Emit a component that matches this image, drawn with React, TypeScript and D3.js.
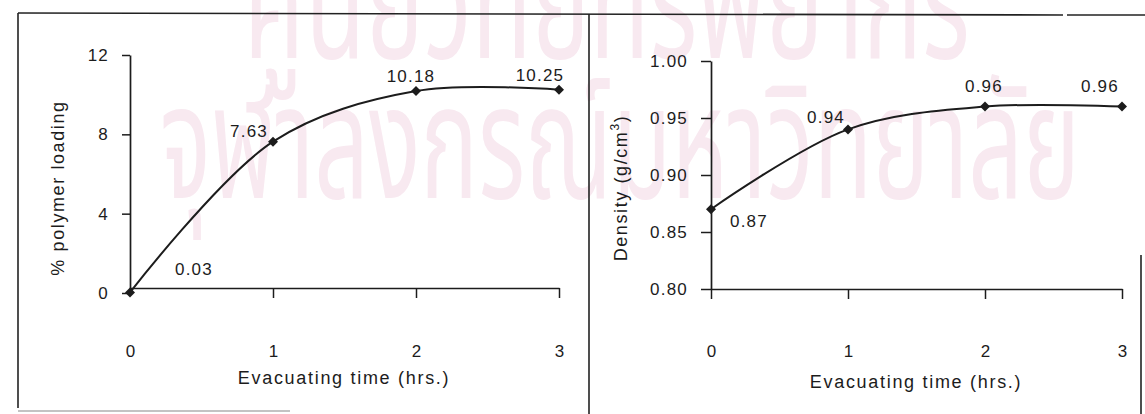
import React, { useEffect, useRef } from "react";
import * as d3 from "d3";

// Evacuating time (hours)
const hours = [0, 1, 2, 3];
const xTickLabels = ["0", "1", "2", "3"];

// Left panel: % polymer loading
const loading = [0.03, 7.63, 10.18, 10.25];
const loadingLabels = ["0.03", "7.63", "10.18", "10.25"];
const loadingTicks = [0, 4, 8, 12];

// Right panel: density (g/cm3)
const density = [0.87, 0.94, 0.96, 0.96];
const densityLabels = ["0.87", "0.94", "0.96", "0.96"];
const densityTicks = [0.8, 0.85, 0.9, 0.95, 1.0];

// Watermark lines
const watermarkLines = ["ศูนย์วิทยทรัพยากร", "จุฬาลงกรณ์มหาวิทยาลัย"];

const W = 1145;
const H = 414;
const FONT = "'Liberation Sans', Arial, Helvetica, sans-serif";
const INK = "#1c1c1c";

type Offset = { dx: number; dy: number; anchor: string };

const loadingLabelPos: Offset[] = [
  { dx: 45, dy: -17, anchor: "start" },
  { dx: -5, dy: -5, anchor: "end" },
  { dx: -5, dy: -9, anchor: "middle" },
  { dx: -19, dy: -9, anchor: "middle" },
];

const densityLabelPos: Offset[] = [
  { dx: 19, dy: 18, anchor: "start" },
  { dx: -3, dy: -6, anchor: "end" },
  { dx: -1, dy: -15, anchor: "middle" },
  { dx: -22, dy: -15, anchor: "middle" },
];

function drawPanel(
  svg: d3.Selection<SVGSVGElement, unknown, null, undefined>,
  opts: {
    xRange: [number, number];
    yDomain: [number, number];
    yRange: [number, number];
    values: number[];
    labels: string[];
    labelPos: Offset[];
    yTicks: number[];
    yFormat: (v: number) => string;
    xAxisY: number;
    zeroTick: boolean;
    yTickSize: number;
    titleX: number;
    titleBaseline: number;
    yTitleX: number;
    yTitle: (g: d3.Selection<SVGTextElement, unknown, null, undefined>) => void;
  }
) {
  const x = d3.scaleLinear().domain([0, 3]).range(opts.xRange);
  const y = d3.scaleLinear().domain(opts.yDomain).range(opts.yRange);
  const g = svg.append("g");

  // y axis
  const yAxis = g
    .append("g")
    .attr("transform", `translate(${opts.xRange[0]},0)`)
    .call(
      d3
        .axisLeft(y)
        .tickValues(opts.yTicks)
        .tickFormat((d) => opts.yFormat(d as number))
        .tickSize(opts.yTickSize)
        .tickSizeOuter(0)
        .tickPadding(13)
    );
  yAxis.select(".domain").attr("stroke", INK).attr("stroke-width", 1.7);
  yAxis.selectAll(".tick line").attr("stroke", INK).attr("stroke-width", 1.5);
  yAxis
    .selectAll(".tick text")
    .attr("fill", INK)
    .style("font-family", FONT)
    .style("font-size", "17px")
    .style("letter-spacing", "1.2px");

  // x axis
  const xAxis = g
    .append("g")
    .attr("transform", `translate(0,${opts.xAxisY})`)
    .call(
      d3
        .axisBottom(x)
        .tickValues(hours)
        .tickFormat((_, i) => xTickLabels[i])
        .tickSize(10)
        .tickSizeOuter(0)
    );
  xAxis.select(".domain").attr("stroke", INK).attr("stroke-width", 1.7);
  xAxis
    .selectAll(".tick line")
    .attr("stroke", INK)
    .attr("stroke-width", 1.5)
    .attr("display", (_, i) => (i === 0 && !opts.zeroTick ? "none" : null));
  xAxis
    .selectAll(".tick text")
    .attr("y", 357 - opts.xAxisY)
    .attr("dy", 0)
    .attr("fill", INK)
    .style("font-family", FONT)
    .style("font-size", "17px");

  // x title
  g.append("text")
    .attr("x", opts.titleX)
    .attr("y", opts.titleBaseline)
    .attr("text-anchor", "middle")
    .attr("fill", INK)
    .style("font-family", FONT)
    .style("font-size", "18px")
    .style("letter-spacing", "1.7px")
    .text("Evacuating time (hrs.)");

  // y title
  const yt = g
    .append("text")
    .attr("transform", `translate(${opts.yTitleX},188) rotate(-90)`)
    .attr("text-anchor", "middle")
    .attr("fill", INK)
    .style("font-family", FONT)
    .style("font-size", "18px")
    .style("letter-spacing", "1.6px");
  opts.yTitle(yt as any);

  // curve
  const line = d3
    .line<number>()
    .x((_, i) => x(hours[i]))
    .y((d) => y(d))
    .curve(d3.curveCatmullRom.alpha(0.5));
  g.append("path")
    .datum(opts.values)
    .attr("d", line)
    .attr("fill", "none")
    .attr("stroke", INK)
    .attr("stroke-width", 2);

  // diamond markers
  g.selectAll("path.mk")
    .data(opts.values)
    .join("path")
    .attr("class", "mk")
    .attr("d", (d, i) => {
      const cx = x(hours[i]);
      const cy = y(d);
      const p = d3.path();
      p.moveTo(cx, cy - 5);
      p.lineTo(cx + 5, cy);
      p.lineTo(cx, cy + 5);
      p.lineTo(cx - 5, cy);
      p.closePath();
      return p.toString();
    })
    .attr("fill", INK);

  // value labels
  g.selectAll("text.val")
    .data(opts.values)
    .join("text")
    .attr("class", "val")
    .attr("x", (_, i) => x(hours[i]) + opts.labelPos[i].dx)
    .attr("y", (d, i) => y(d) + opts.labelPos[i].dy)
    .attr("text-anchor", (_, i) => opts.labelPos[i].anchor)
    .attr("fill", INK)
    .style("font-family", FONT)
    .style("font-size", "17px")
    .style("letter-spacing", "1.2px")
    .text((_, i) => opts.labels[i]);
}

export default function App() {
  const ref = useRef<SVGSVGElement>(null);

  useEffect(() => {
    const svg = d3.select(ref.current!);
    svg.selectAll("*").remove();

    svg.append("rect").attr("width", W).attr("height", H).attr("fill", "#ffffff");

    // faint watermark behind the charts
    const wm = svg
      .append("g")
      .attr("fill", "#f8e9f0")
      .style("font-family", "'Noto Sans Thai', 'Noto Sans', sans-serif")
      .style("font-weight", 400);
    wm.append("text")
      .attr("transform", "translate(607,58) scale(0.62,1)")
      .attr("text-anchor", "middle")
      .style("font-size", "158px")
      .text(watermarkLines[0]);
    wm.append("text")
      .attr("transform", "translate(620,198) scale(0.6,1)")
      .attr("text-anchor", "middle")
      .style("font-size", "160px")
      .text(watermarkLines[1]);

    // page frame
    const frame = svg.append("g").attr("stroke", "#222").attr("stroke-width", 1.6).attr("fill", "none");
    frame.append("line").attr("x1", 18).attr("y1", 13).attr("x2", 1063).attr("y2", 15);
    frame.append("line").attr("x1", 1067).attr("y1", 15).attr("x2", 1145).attr("y2", 15);
    frame.append("line").attr("x1", 18).attr("y1", 13).attr("x2", 18).attr("y2", 408);
    frame.append("line").attr("x1", 589).attr("y1", 14).attr("x2", 589).attr("y2", 414);
    frame.append("line").attr("x1", 1141).attr("y1", 255).attr("x2", 1141).attr("y2", 414);
    frame
      .append("line")
      .attr("x1", 18)
      .attr("y1", 411)
      .attr("x2", 290)
      .attr("y2", 411)
      .attr("stroke", "#888")
      .attr("stroke-width", 1.2);

    drawPanel(svg, {
      xRange: [130, 559],
      yDomain: [0, 12],
      yRange: [293, 55],
      values: loading,
      labels: loadingLabels,
      labelPos: loadingLabelPos,
      yTicks: loadingTicks,
      yFormat: (v) => String(v),
      xAxisY: 288,
      zeroTick: false,
      yTickSize: 8,
      titleX: 344,
      titleBaseline: 384,
      yTitleX: 64,
      yTitle: (t) => {
        t.text("% polymer loading");
      },
    });

    drawPanel(svg, {
      xRange: [711, 1122],
      yDomain: [0.8, 1.0],
      yRange: [289, 61],
      values: density,
      labels: densityLabels,
      labelPos: densityLabelPos,
      yTicks: densityTicks,
      yFormat: d3.format(".2f"),
      xAxisY: 289,
      zeroTick: true,
      yTickSize: 10,
      titleX: 916,
      titleBaseline: 388,
      yTitleX: 627,
      yTitle: (t) => {
        t.append("tspan").text("Density (g/cm");
        t.append("tspan").attr("dy", -8).style("font-size", "12px").text("3");
        t.append("tspan").attr("dy", 8).text(")");
      },
    });
  }, []);

  return (
    <svg
      ref={ref}
      width={W}
      height={H}
      style={{ position: "absolute", left: 0, top: 0, display: "block" }}
    />
  );
}
